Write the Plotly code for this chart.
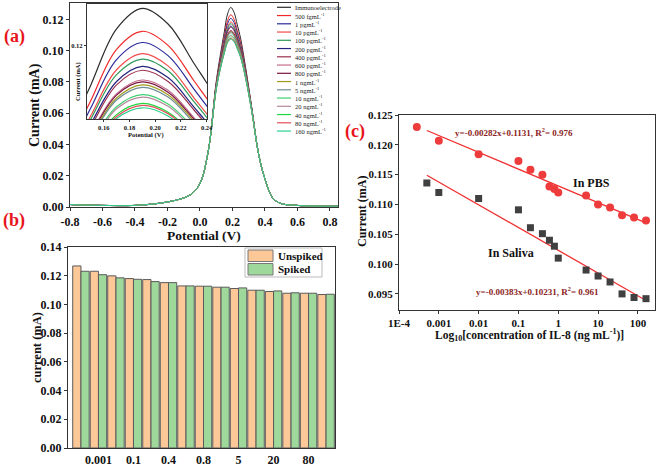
import plotly.graph_objects as go

# ---------------- data ----------------
# (a) DPV curves: shared tails + per-curve peak region
potential_left = [-0.8, -0.7, -0.6, -0.5, -0.4, -0.3, -0.2, -0.1, -0.05, 0.0, 0.05]
current_left = [0.0016, 0.0012, 0.0010, 0.0009, 0.0010, 0.0018, 0.0032, 0.0058, 0.0085, 0.0150, 0.0350]
potential_peak = [0.10, 0.13, 0.15, 0.17, 0.19, 0.21, 0.23, 0.25, 0.28, 0.32]
potential_right = [0.36, 0.40, 0.45, 0.50, 0.60, 0.70, 0.80, 0.85]
current_right = [0.0345, 0.0180, 0.0055, 0.0022, 0.0010, 0.0006, 0.0005, 0.0005]

curve_labels = ["Immunoelectrode", "500 fgmL<sup>-1</sup>", "1 pgmL<sup>-1</sup>", "10 pgmL<sup>-1</sup>",
                "100 pgmL<sup>-1</sup>", "200 pgmL<sup>-1</sup>", "400 pgmL<sup>-1</sup>", "600 pgmL<sup>-1</sup>",
                "800 pgmL<sup>-1</sup>", "1 ngmL<sup>-1</sup>", "5 ngmL<sup>-1</sup>", "10 ngmL<sup>-1</sup>",
                "20 ngmL<sup>-1</sup>", "40 ngmL<sup>-1</sup>", "80 ngmL<sup>-1</sup>", "160 ngmL<sup>-1</sup>"]

peak_currents = [
    [0.0800, 0.1000, 0.1120, 0.1235, 0.1277, 0.1245, 0.1165, 0.1080, 0.0900, 0.0630],
    [0.0788, 0.0977, 0.1088, 0.1193, 0.1230, 0.1201, 0.1129, 0.1052, 0.0884, 0.0624],
    [0.0783, 0.0966, 0.1073, 0.1172, 0.1207, 0.1180, 0.1112, 0.1038, 0.0876, 0.0622],
    [0.0777, 0.0955, 0.1057, 0.1151, 0.1184, 0.1159, 0.1094, 0.1024, 0.0867, 0.0619],
    [0.0774, 0.0950, 0.1050, 0.1141, 0.1173, 0.1149, 0.1086, 0.1017, 0.0864, 0.0618],
    [0.0771, 0.0943, 0.1040, 0.1127, 0.1158, 0.1135, 0.1075, 0.1008, 0.0858, 0.0616],
    [0.0769, 0.0939, 0.1034, 0.1120, 0.1150, 0.1127, 0.1069, 0.1003, 0.0856, 0.0615],
    [0.0764, 0.0929, 0.1021, 0.1102, 0.1130, 0.1109, 0.1053, 0.0991, 0.0849, 0.0612],
    [0.0763, 0.0928, 0.1018, 0.1099, 0.1126, 0.1105, 0.1050, 0.0989, 0.0847, 0.0612],
    [0.0761, 0.0925, 0.1014, 0.1093, 0.1120, 0.1100, 0.1046, 0.0985, 0.0845, 0.0611],
    [0.0760, 0.0922, 0.1011, 0.1089, 0.1115, 0.1095, 0.1042, 0.0982, 0.0843, 0.0611],
    [0.0757, 0.0915, 0.1001, 0.1075, 0.1100, 0.1081, 0.1031, 0.0973, 0.0838, 0.0609],
    [0.0755, 0.0913, 0.0997, 0.1071, 0.1095, 0.1076, 0.1027, 0.0970, 0.0836, 0.0608],
    [0.0752, 0.0906, 0.0988, 0.1059, 0.1082, 0.1064, 0.1017, 0.0962, 0.0832, 0.0607],
    [0.0751, 0.0905, 0.0986, 0.1055, 0.1078, 0.1061, 0.1014, 0.0960, 0.0830, 0.0606],
    [0.0750, 0.0902, 0.0982, 0.1051, 0.1073, 0.1056, 0.1010, 0.0957, 0.0829, 0.0606],
]

a_xtick_vals = [-0.8, -0.6, -0.4, -0.2, 0.0, 0.2, 0.4, 0.6, 0.8]
a_xtick_text = ["-0.8", "-0.6", "-0.4", "-0.2", "0.0", "0.2", "0.4", "0.6", "0.8"]
inset_xtick_vals = [0.16, 0.18, 0.20, 0.22, 0.24]

# (b) bars
conc_labels = ["0.0005", "0.001", "0.01", "0.1", "0.2", "0.4", "0.6", "0.8", "1", "5", "10", "20", "40", "80", "160"]
unspiked = [0.1268, 0.1231, 0.1199, 0.1180, 0.1173, 0.1152, 0.1129, 0.1127, 0.1120, 0.1111, 0.1099, 0.1090, 0.1078, 0.1078, 0.1069]
spiked = [0.1231, 0.1207, 0.1185, 0.1175, 0.1159, 0.1152, 0.1129, 0.1127, 0.1120, 0.1115, 0.1099, 0.1094, 0.1081, 0.1078, 0.1071]
b_tick_labels = ["0.001", "0.1", "0.4", "0.8", "5", "20", "80"]

# (c) calibration
pbs_conc = [0.00028, 0.001, 0.01, 0.1, 0.2, 0.4, 0.6, 0.8, 1, 5, 10, 20, 40, 80, 160]
pbs_current = [0.1230, 0.1207, 0.1184, 0.1173, 0.1158, 0.1150, 0.1130, 0.1126, 0.1120, 0.1115, 0.1100, 0.1095, 0.1082, 0.1078, 0.1073]
saliva_conc = [0.0005, 0.001, 0.01, 0.1, 0.2, 0.4, 0.6, 0.8, 1, 5, 10, 20, 40, 80, 160]
saliva_current = [0.1136, 0.1120, 0.1110, 0.1091, 0.1061, 0.1051, 0.1040, 0.1030, 0.1010, 0.0990, 0.0980, 0.0970, 0.0950, 0.0944, 0.0942]
fit_conc = [0.0005, 160]
pbs_fit = [0.1224, 0.1069]
saliva_fit = [0.1149, 0.0939]
c_xtick_vals = [1e-4, 1e-3, 1e-2, 1e-1, 1, 10, 100]
c_xtick_text = ["1E-4", "0.001", "0.01", "0.1", "1", "10", "100"]

# ---------------- styling ----------------
W, H = 661, 470
FONT = "Liberation Serif"
curve_colors = ["#2b2b2b", "#f02828", "#2a2a9a", "#f24a4a", "#2e9a5a", "#23237e", "#9a3050", "#c36a8a",
                "#7a1540", "#a09a20", "#6f8f95", "#3fcf70", "#b58a9a", "#22d640", "#e0505a", "#2ccf8f"]


def px(x):
    return x / W


def py(y):
    return 1 - y / H


fig = go.Figure()

x_all = potential_left + potential_peak + potential_right
for i in range(len(curve_labels)):
    y_all = current_left + peak_currents[i] + current_right
    fig.add_trace(go.Scatter(x=x_all, y=y_all, mode="lines", xaxis="x", yaxis="y",
                             line=dict(color=curve_colors[i], width=1, shape="spline"),
                             showlegend=False, name=curve_labels[i]))
for i in range(len(curve_labels)):
    y_all = current_left + peak_currents[i] + current_right
    fig.add_trace(go.Scatter(x=x_all, y=y_all, mode="lines", xaxis="x2", yaxis="y2",
                             line=dict(color=curve_colors[i], width=1.2, shape="spline"),
                             showlegend=False, name=curve_labels[i]))

fig.add_trace(go.Bar(x=conc_labels, y=unspiked, xaxis="x3", yaxis="y3", name="Unspiked",
                     marker=dict(color="#FCC898", line=dict(color="#5a5a5a", width=1)), showlegend=False))
fig.add_trace(go.Bar(x=conc_labels, y=spiked, xaxis="x3", yaxis="y3", name="Spiked",
                     marker=dict(color="#9FD89B", line=dict(color="#5a5a5a", width=1)), showlegend=False))

fig.add_trace(go.Scatter(x=fit_conc, y=pbs_fit, mode="lines", xaxis="x4", yaxis="y4",
                         line=dict(color="#f03030", width=1.3), showlegend=False))
fig.add_trace(go.Scatter(x=fit_conc, y=saliva_fit, mode="lines", xaxis="x4", yaxis="y4",
                         line=dict(color="#f03030", width=1.3), showlegend=False))
fig.add_trace(go.Scatter(x=pbs_conc, y=pbs_current, mode="markers", xaxis="x4", yaxis="y4",
                         marker=dict(symbol="circle", size=8, color="#ee3b3b"), showlegend=False))
fig.add_trace(go.Scatter(x=saliva_conc, y=saliva_current, mode="markers", xaxis="x4", yaxis="y4",
                         marker=dict(symbol="square", size=7, color="#404040"), showlegend=False))

axis_common = dict(showline=True, linecolor="#333", linewidth=1.2, mirror=True, ticks="outside",
                   ticklen=3, tickcolor="#333", showgrid=False, zeroline=False, automargin=False)

fig.update_layout(
    template="none",
    width=W, height=H, autosize=False,
    margin=dict(l=0, r=0, t=0, b=0, pad=0),
    paper_bgcolor="white", plot_bgcolor="white",
    showlegend=False,
    barmode="group", bargap=0.06, bargroupgap=0,
    font=dict(family=FONT, color="#111"),
    xaxis=dict(domain=[px(70), px(338)], range=[-0.8, 0.85], anchor="y",
               tickvals=a_xtick_vals, ticktext=a_xtick_text,
               tickfont=dict(family=FONT, size=12, weight="bold"), **axis_common),
    yaxis=dict(domain=[py(207), py(3)], range=[0, 0.1305], anchor="x",
               tickvals=[0, 0.02, 0.04, 0.06, 0.08, 0.10, 0.12], tickformat=".2f",
               tickfont=dict(family=FONT, size=12, weight="bold"), **axis_common),
    xaxis2=dict(domain=[px(87), px(207)], range=[0.147, 0.2403], anchor="y2",
                tickvals=inset_xtick_vals, tickformat=".2f",
                tickfont=dict(family=FONT, size=6.5, weight="bold"),
                **{**axis_common, "ticklen": 2}),
    yaxis2=dict(domain=[py(119), py(4)], range=[0.105, 0.1286], anchor="x2",
                tickvals=[0.12], tickformat=".2f",
                tickfont=dict(family=FONT, size=6.5, weight="bold"),
                **{**axis_common, "ticklen": 2}),
    xaxis3=dict(domain=[px(68), px(335)], type="category", range=[-0.74, 14.51], anchor="y3",
                tickvals=b_tick_labels, ticktext=b_tick_labels,
                tickfont=dict(family=FONT, size=12, weight="bold"),
                **{**axis_common, "ticks": ""}),
    yaxis3=dict(domain=[py(448), py(247)], range=[0, 0.14], anchor="x3",
                tickvals=[0, 0.02, 0.04, 0.06, 0.08, 0.10, 0.12, 0.14], tickformat=".2f",
                tickfont=dict(family=FONT, size=12, weight="bold"), **axis_common),
    xaxis4=dict(domain=[px(399), px(655)], type="log", range=[-4, 2.43], anchor="y4",
                tickvals=c_xtick_vals, ticktext=c_xtick_text,
                tickfont=dict(family=FONT, size=11, weight="bold"), **axis_common),
    yaxis4=dict(domain=[py(310), py(115)], range=[0.0923, 0.125], anchor="x4",
                tickvals=[0.095, 0.100, 0.105, 0.110, 0.115, 0.120, 0.125], tickformat=".3f",
                tickfont=dict(family=FONT, size=11, weight="bold"), **axis_common),
)

annotations = []
shapes = []


def note(text, x, y, size, color="#111", bold=True, angle=0, xanchor="center"):
    annotations.append(dict(text=text, x=px(x), y=py(y), xref="paper", yref="paper",
                            xanchor=xanchor, yanchor="middle", showarrow=False, textangle=angle,
                            font=dict(family=FONT, size=size, color=color,
                                      weight="bold" if bold else "normal")))


# panel labels
note("(a)", 14, 37, 18, color="#e8141b")
note("(b)", 14, 220, 18, color="#e8141b")
note("(c)", 355, 132, 18, color="#e8141b")

# axis titles
note("Current (mA)", 35, 105, 14, angle=-90)
note("Potential (V)", 204, 236, 13.5)
note("Current (mA)", 78, 82, 6.5, angle=-90)
note("Potential (V)", 146, 135, 6.5)
note("current (mA)", 37, 348, 12.5, angle=-90)
note("Current (mA)", 362, 212, 12, angle=-90)
note("Log<sub>10</sub>[concentration of IL-8 (ng mL<sup>-1</sup>)]", 529, 335, 11.5)

# panel (c) texts
note("y=-0.00282x+0.1131, R<sup>2</sup>= 0.976", 514, 132, 9, color="#8b2323")
note("In PBS", 591, 183, 12)
note("In Saliva", 511, 253, 12)
note("y=-0.00383x+0.10231, R<sup>2</sup>= 0.961", 537, 291, 9, color="#8b2323")

# legend for (a)
for i, lab in enumerate(curve_labels):
    yy = 7.3 + 8.25 * i
    shapes.append(dict(type="line", xref="paper", yref="paper", x0=px(277), x1=px(291),
                       y0=py(yy), y1=py(yy), line=dict(color=curve_colors[i], width=1.2)))
    note(lab, 293, yy, 6.5, color="#222", bold=False, xanchor="left")

# legend for (b)
shapes.append(dict(type="rect", xref="paper", yref="paper", x0=px(245), x1=px(322),
                   y0=py(248), y1=py(277), line=dict(color="#bbbbbb", width=1), fillcolor="white"))
shapes.append(dict(type="rect", xref="paper", yref="paper", x0=px(248), x1=px(273),
                   y0=py(250), y1=py(261.5), line=dict(color="#777", width=1), fillcolor="#FCC898"))
shapes.append(dict(type="rect", xref="paper", yref="paper", x0=px(248), x1=px(273),
                   y0=py(263.5), y1=py(275), line=dict(color="#777", width=1), fillcolor="#9FD89B"))
note("Unspiked", 276, 256, 11, xanchor="left")
note("Spiked", 276, 269, 11, xanchor="left")

fig.update_layout(annotations=annotations, shapes=shapes)

fig.write_html("out.html", config={"displayModeBar": False},
               post_script="document.body.style.margin='0';document.body.style.overflow='hidden';")
